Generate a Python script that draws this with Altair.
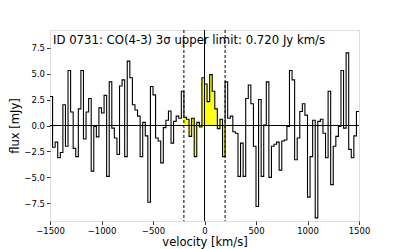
import altair as alt
import pandas as pd

# channel fluxes [mJy], 25 km/s channels from -1500 to 1500 km/s
flux = [
    2.8, -2.1, -1.6, -3.1, -2.6, 2.0, -2.0, 5.3, 1.3, -2.2,
    -3.0, 1.6, 5.3, -1.3, 1.3, 2.6, -4.4, -0.1, -1.1, 1.7,
    1.2, 2.9, -4.9, 4.2, -0.25, -1.2, -2.8, 3.8, 4.4, -3.0,
    6.2, 4.6, 2.0, 1.5, 0.9, -3.0, 0.3, -1.0, -7.4, 3.75,
    2.95, -1.2, -1.5, -3.6, -0.2, 0.5, 1.4, -1.7, 0.4, 0.9,
    0.7, 3.3, 0.8, 0.6, -1.05, 0.7, -3.0, 0.3, -0.15, 4.6,
    4.0, 2.3, 4.9, 3.3, 1.6, -0.3, 0.6, -3.0, 4.2, 0.7,
    0.9, -0.6, -0.75, -4.9, -1.7, -4.9, 2.6, 3.9, 2.1, -2.0,
    -7.8, 2.5, -4.9, 0.05, 4.2, -5.0, -2.0, -1.8, -1.6, -4.3,
    -1.5, -1.4, -0.1, 5.3, 4.4, -3.3, -1.2, 1.35, 2.1, 1.0,
    -6.9, -3.0, 0.5, -8.9, 0.4, 0.6, -0.75, -3.1, 3.3, -5.7,
    -2.0, -1.05, -0.1, 5.3, -0.25, 7.0, -2.3, -3.1, -1.0, 1.35,
]
v_start = -1500
dv = 25
line_window = [-200, 200]
x_ticks = [-1500, -1000, -500, 0, 500, 1000, 1500]
y_ticks = [-7.5, -5.0, -2.5, 0.0, 2.5, 5.0, 7.5]
title_text = "ID 0731: CO(4-3) 3\u03c3 upper limit: 0.720 Jy km/s"

edges = [v_start + dv * i for i in range(len(flux) + 1)]
step_df = pd.DataFrame({"v": edges, "f": flux + [flux[-1]]})
win_df = pd.DataFrame({
    "v": edges[:-1], "v2": edges[1:], "f": flux,
})
win_df = win_df[(win_df.v >= line_window[0]) & (win_df.v2 <= line_window[1])]

xs = alt.Scale(domain=[-1500, 1500], nice=False, zero=False)
ys = alt.Scale(domain=[-9.2, 9.2], nice=False, zero=False)

lab = "replace(datum.label, '-', '\u2212')"
common = dict(grid=False, labelExpr=lab, labelFontSize=8.5, titleFontSize=11.5,
              titleFontWeight="normal", tickColor="#333", domain=False,
              labelColor="#000", titleColor="#000", tickSize=3.5,
              labelOverlap=False, labelPadding=2, labelFlush=False)
xaxis = alt.Axis(values=x_ticks, format="d", title="velocity [km/s]", titlePadding=1, **common)
yaxis = alt.Axis(values=y_ticks, format=".1f", title="flux [mJy]", titlePadding=3, **common)

X = lambda f: alt.X(f, scale=xs, axis=xaxis)
Y = lambda f: alt.Y(f, scale=ys, axis=yaxis)

fill = alt.Chart(win_df).mark_rect(color="#ffff00", opacity=1).encode(
    x=X("v:Q"), x2="v2:Q", y=Y("f:Q"), y2=alt.datum(0),
)
step = alt.Chart(step_df).mark_line(interpolate="step-after", color="black", strokeWidth=1.1).encode(
    x=X("v:Q"), y=Y("f:Q"),
)
hz = alt.Chart(pd.DataFrame({"y": [0]})).mark_rule(color="black", strokeWidth=1.1).encode(
    y=Y("y:Q"))
vz = alt.Chart(pd.DataFrame({"x": [0]})).mark_rule(color="black", strokeWidth=1).encode(
    x=X("x:Q"))
vd = alt.Chart(pd.DataFrame({"x": line_window})).mark_rule(color="black", strokeWidth=1, strokeDash=[3, 2]).encode(
    x=X("x:Q"))
txt = alt.Chart(pd.DataFrame({"t": [title_text]})).mark_text(
    align="left", baseline="alphabetic", fontSize=11.7, color="black", font="DejaVu Sans"
).encode(x=alt.value(3), y=alt.value(14), text="t:N")

chart = alt.layer(fill, step, hz, vz, vd, txt).properties(
    width=309, height=191,
    autosize=alt.AutoSizeParams(type="none"),
    padding={"left": 42, "top": 22, "right": 32, "bottom": 28},
).configure_view(stroke="#888", strokeWidth=1).configure(
    font="DejaVu Sans"
).configure_axis(labelFont="DejaVu Sans", titleFont="DejaVu Sans", labelOverlap=False)

chart.save("out.html", embed_options={"renderer": "svg", "actions": False})
